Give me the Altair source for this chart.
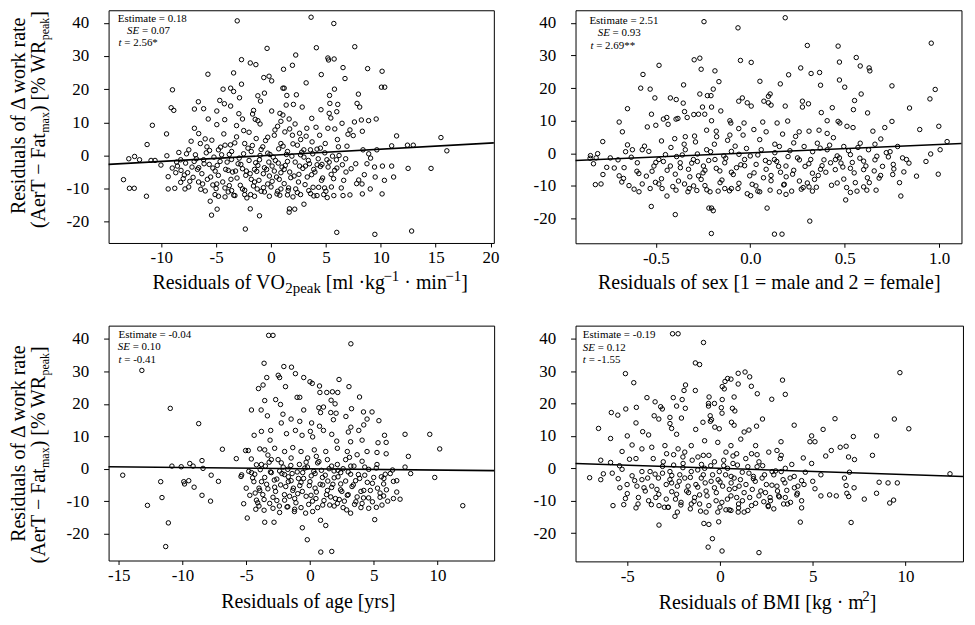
import altair as alt
import pandas as pd

FONT = "Liberation Serif"

# ---------------- data ----------------
P1_POINTS = [
(-3.08,40.6),(3.65,41.7),(5.72,39.8),(-0.36,32.3),(4.13,32.5),(7.63,32.8),(2.25,30.3),(5.18,29.4),(5.24,28.8),(5.75,29.1),
(-2.69,28.9),(-1.89,27.9),(-1.38,27.4),(1.95,27.2),(1.14,26.0),(6.56,26.5),(8.80,26.2),(10.12,25.4),(6.74,23.2),(-5.75,24.5),
(-3.41,24.9),(4.58,24.4),(-0.66,23.5),(-0.18,23.9),(0.06,22.5),(3.20,21.9),(-2.69,21.5),(10.06,20.6),(10.36,20.6),(-8.98,19.8),
(-4.37,20.0),(-3.68,20.3),(-3.41,19.3),(1.08,20.3),(1.20,20.3),(5.78,20.0),(-2.87,17.4),(-1.20,18.0),(-0.60,18.8),(-0.96,16.4),
(1.44,18.1),(2.31,18.3),(5.33,18.1),(7.96,18.5),(-4.67,16.6),(-4.25,15.6),(-3.68,14.9),(-6.62,16.2),(1.38,15.2),(2.04,15.4),
(5.36,15.7),(6.08,15.4),(7.84,15.7),(8.08,14.6),(-9.10,14.4),(-8.86,13.6),(-6.98,14.0),(-6.14,14.1),(-4.94,13.4),(-1.59,13.6),
(0.06,13.4),(2.84,14.6),(4.55,13.8),(5.99,13.2),(-2.93,12.6),(-1.68,12.5),(0.81,12.7),(5.30,12.7),(-4.22,10.8),(-2.60,11.0),
(-1.44,10.9),(-1.20,10.5),(1.08,12.2),(1.65,11.0),(3.71,11.2),(5.45,11.3),(8.23,10.7),(8.89,10.5),(9.58,11.0),(-5.72,11.0),
(-10.81,9.1),(-4.94,9.3),(0.60,8.8),(2.19,9.5),(6.47,9.7),(7.60,10.1),(-6.98,8.2),(-2.49,7.5),(0.36,7.7),(3.26,8.2),
(5.18,8.2),(5.81,8.0),(7.19,7.7),(8.32,7.3),(-9.52,6.5),(11.44,5.9),(10.99,2.9),(12.43,3.1),(12.96,3.1),(15.48,5.4),
(16.02,1.4),(14.58,-3.9),(12.49,-3.9),(11.17,-6.5),(10.15,-3.2),(10.99,-3.2),(10.33,-7.5),(10.12,-11.6),(9.49,-6.5),(9.43,-3.5),
(9.07,-0.8),(9.64,1.7),(9.04,-10.1),(9.46,-23.8),(12.81,-22.8),(5.99,-23.2),(-2.34,-22.2),(-1.05,-18.2),(-5.42,-18.0),(-4.91,-16.2),
(-1.89,-16.1),(1.65,-17.1),(1.68,-16.1),(2.16,-16.2),(3.0,-14.7),(-11.35,-12.3),(-13.44,-7.3),(-12.90,-9.9),(-12.46,-9.9),(-12.96,-1.0),
(-12.43,-0.3),(-11.98,-1.3),(-11.29,3.3),(-10.93,-1.5),(-10.57,-1.5),(-10.03,-2.9),(-9.49,-0.1),(-9.37,-6.4),(-9.37,-10.1),(-8.77,-9.9),
(-8.68,-5.2),(-8.23,-8.1),(-7.84,-10.1),(-7.60,-5.2),(-7.10,-6.6),(-7.28,4.3),(7.99,-7.4),(7.19,-11.9),(6.62,-7.5),(6.83,-5.0),
(7.72,-2.5),(7.49,6.0),(7.01,6.4),(6.92,2.8),(6.14,2.6),(6.05,4.8),(5.96,-1.3),(5.12,-12.7),(5.72,-12.1),(6.56,-12.1),
(8.32,-11.6),(8.29,-8.6),(8.74,-2.5),(8.38,1.7),(4.19,-12.1),(2.69,-11.8),(1.50,-11.9),(0.54,-11.6),(-0.15,-12.3),(-0.69,-9.7),
(-1.50,-12.3),(-1.86,-11.8),(-2.40,-11.8),(-3.29,-12.1),(-4.19,-12.5),(-4.79,-12.3),(-5.54,-13.8),(-5.99,-10.7),(-6.23,-8.6),(-5.30,-8.9),
(-4.94,-8.6),(-3.80,-9.1),(-3.59,-10.6),(-2.60,-10.1),(-1.26,-10.1),(-0.90,-10.8),(-0.30,-8.6),(0.90,-10.1),(1.56,-10.6),(2.25,-10.1),
(3.44,-10.6),(3.83,-9.6),(4.34,-9.6),(4.88,-9.8),(5.48,-5.7),(3.89,-4.2),(4.64,-2.7),(5.09,-1.3),(3.59,1.7),(4.19,1.9),
(2.69,0.2),(3.14,-3.2),(2.54,-5.7),(1.80,-6.7),(1.20,-4.2),(0.66,-2.3),(0.30,-4.7),(0.75,-7.2),(-0.15,-6.2),(-0.60,-3.7),
(-1.05,-1.3),(-1.50,-4.2),(-1.80,-7.2),(-2.25,-4.7),(-2.75,-2.7),(-3.23,-4.7),(-3.65,-7.2),(-4.13,-4.2),(-4.64,-1.8),(-5.09,-4.7),
(-5.63,-2.7),(-6.14,-1.3),(-6.59,-3.7),(-6.89,0.2),(-7.49,1.7),(-8.23,-1.3),(-8.53,-3.2),(-7.78,-2.3),(-6.44,3.6),(-5.84,2.6),
(-5.39,4.6),(-4.79,1.7),(-4.19,3.1),(-3.59,1.2),(-3.14,5.6),(-2.40,3.6),(-1.80,1.2),(-1.35,5.1),(-0.75,2.6),(-0.30,0.7),
(0.30,6.1),(0.90,3.6),(1.50,1.2),(1.95,6.1),(2.40,3.1),(2.99,1.7),(3.74,4.1),(4.43,6.1),(4.94,3.6),(1.26,7.1),
(-3.14,9.0),(-6.59,6.6),
(-7.2,-3.5),(-6.8,-1.0),(-6.3,-5.5),(-5.9,0.8),(-5.5,-6.5),(-5.2,-0.5),(-4.9,-3.0),(-4.6,2.5),(-4.4,-8.0),(-4.0,-2.0),
(-3.8,0.3),(-3.5,-5.0),(-3.3,3.8),(-3.0,-2.5),(-2.8,-9.0),(-2.5,0.5),(-2.3,-6.0),(-2.0,-1.5),(-1.7,3.0),(-1.5,-8.0),
(-1.2,-3.0),(-1.0,0.0),(-0.7,-5.5),(-0.5,4.5),(-0.2,-2.0),(0.0,-9.5),(0.2,-0.5),(0.5,-6.5),(0.7,2.0),(1.0,-3.5),
(1.2,-8.5),(1.4,0.3),(1.7,-5.0),(2.0,3.5),(2.2,-2.0),(2.5,-8.0),(2.7,4.8),(3.0,-0.5),(3.3,-6.5),(3.5,-2.5),
(3.8,0.5),(4.0,-5.0),(4.3,-1.0),(4.6,-7.5),(4.9,0.8),(5.2,-3.5),(5.5,-9.5),(5.8,-4.5),(6.2,0.0),(6.5,-2.8),
(-8.0,-7.0),(-7.5,-9.5),(-6.6,-8.0),(-5.0,-10.0),(-3.9,-11.0),(-2.2,-12.8),(0.8,-12.0),(2.0,-12.5),(3.6,-11.5),(4.8,-11.8),
(-6.0,5.0),(-4.3,6.5),(-2.0,7.0),(-0.3,5.5),(1.7,8.0),(3.2,5.8),(4.1,8.5),(-1.0,9.5),(0.9,10.3),(2.6,6.7),
(-9.0,-3.8),(-8.4,0.9),(-7.9,-5.9),(-3.6,-1.2),(-1.3,-4.8),(0.1,-3.2),(1.5,-1.8),(2.9,-3.9),(4.5,-3.3),(5.6,-0.2),
(-8.6,-2.0),(-8.2,-4.5),(-7.7,0.5),(-7.4,-7.8),(-7.0,-1.8),(-6.7,-4.2),(-6.4,-10.2),(-6.1,-2.5),(-5.8,-7.2),(-5.6,1.5),
(-5.3,-3.8),(-5.1,-11.8),(-4.8,-6.0),(-4.5,0.2),(-4.2,-9.8),(-3.9,-4.5),(-3.7,3.2),(-3.4,-12.0),(-3.1,-6.8),(-2.9,-0.8),
(-2.6,-4.0),(-2.4,-10.5),(-2.1,2.2),(-1.9,-5.5),(-1.6,-9.2),(-1.4,-2.2),(-1.1,-7.5),(-0.9,1.8),(-0.6,-11.0),(-0.4,-4.2),
(-0.1,0.3),(0.1,-7.8),(0.4,-1.5),(0.6,-10.8),(0.9,-5.2),(1.1,2.8),(1.3,-3.0),(1.6,-9.8),(1.9,-0.2),(2.1,-6.2),
(2.4,-11.2),(2.6,-3.2),(2.8,1.0),(3.1,-8.8),(3.4,-1.5),(3.7,-5.8),(3.9,-12.2),(4.2,-2.8),(4.5,2.2),(4.7,-6.8),
(5.0,-10.8),(5.3,-2.0),(5.7,-7.0),(6.0,-3.8),(6.4,-9.8),(6.8,-1.0),(7.3,-4.0),(7.8,-8.5),(8.5,-5.8),(8.9,0.5),
]

P2_POINTS = [
(-0.245,40.4),(0.185,41.6),(-0.065,38.5),(0.958,33.8),(0.302,33.1),(0.465,32.9),(0.561,29.4),(-0.267,29.2),(-0.297,28.7),(-0.052,28.5),
(0.005,27.9),(0.472,28.0),(0.582,26.8),(-0.483,27.0),(0.629,26.2),(0.633,25.3),(0.267,26.2),(-0.260,25.8),(-0.187,25.3),(0.367,24.8),
(0.322,24.5),(0.203,24.1),(-0.568,24.2),(0.472,22.5),(0.051,22.1),(-0.166,22.0),(0.159,21.3),(-0.353,21.0),(0.372,20.9),(0.500,20.3),
(0.750,20.7),(0.979,19.6),(-0.580,20.0),(-0.530,19.7),(-0.196,19.7),(0.587,18.2),(0.951,16.7),(0.552,16.2),(-0.267,18.2),(-0.227,17.7),
(-0.208,17.7),(-0.505,17.0),(-0.423,17.0),(-0.392,16.5),(-0.042,17.0),(-0.061,16.0),(-0.016,15.5),(0.005,14.5),(0.072,16.0),(0.096,15.5),
(0.110,14.8),(0.276,16.0),(0.308,15.2),(0.276,14.2),(0.185,14.5),(0.105,18.2),(0.096,17.5),(-0.355,15.4),(0.434,14.0),(0.546,13.4),
(0.843,13.9),(0.621,12.4),(0.376,12.5),(-0.650,13.7),(-0.523,12.0),(-0.253,14.2),(-0.205,14.2),(-0.156,13.0),(-0.348,12.8),(-0.299,11.9),
(-0.274,12.0),(-0.241,12.0),(-0.442,11.0),(-0.460,10.5),(-0.393,10.5),(-0.383,10.7),(-0.334,11.0),(-0.205,10.0),(-0.108,10.0),(-0.103,9.3),
(-0.033,9.3),(0.066,9.6),(0.142,9.3),(0.198,9.9),(0.407,10.0),(0.465,9.8),(0.474,9.3),(0.750,9.8),(-0.694,9.6),(-0.677,6.6),
(-0.500,8.6),(-0.435,8.9),(-0.545,8.1),(0.897,7.3),(0.998,8.3),(0.712,7.9),(0.649,6.8),(0.544,7.9),(0.512,8.3),(0.407,6.1),
(0.364,7.1),(0.311,6.8),(0.259,6.6),(0.171,5.9),(0.084,6.6),(0.019,7.3),(-0.038,5.6),(-0.061,7.6),(-0.108,5.6),(-0.231,7.1),
(-0.178,5.1),(-0.295,5.3),(-0.344,5.1),(0.691,4.4),(0.780,2.1),(1.042,3.6),(1.005,1.1),(0.955,-0.2),(0.731,-1.1),(0.806,-1.4),
(0.827,-1.9),(0.757,-3.4),(0.813,-5.7),(0.754,-6.5),(0.995,-6.4),(0.797,-13.1),(0.682,-7.6),(0.656,-5.4),(0.666,-11.3),(0.617,-11.3),
(0.565,-11.6),(0.530,-12.0),(0.505,-14.3),(0.556,-9.0),(0.600,-10.3),(0.460,-9.1),(0.495,-7.9),(0.530,-4.6),(0.472,-1.4),(0.425,-2.9),
(0.372,-4.9),(0.329,-6.1),(0.302,-9.1),(0.311,-10.3),(0.350,-10.4),(0.329,-11.6),(0.315,-20.8),(0.219,-11.6),(0.189,-12.6),(0.177,-9.7),
(0.154,-11.8),(0.110,-8.4),(0.089,-16.8),(0.128,-24.8),(0.168,-24.8),(0.105,-11.3),(0.040,-11.6),(0.002,-13.0),(-0.016,-12.4),(-0.065,-10.8),
(-0.100,-10.8),(-0.135,-10.8),(-0.170,-11.6),(-0.205,-16.8),(-0.196,-17.6),(-0.206,-24.6),(-0.219,-16.8),(-0.213,-11.8),(-0.240,-9.9),(-0.283,-11.4),
(-0.323,-10.8),(-0.348,-9.4),(-0.393,-11.3),(-0.397,-18.8),(-0.441,-13.1),(-0.467,-10.8),(-0.524,-16.3),(-0.484,-9.4),(-0.502,-8.9),(-0.572,-9.4),
(-0.589,-11.8),(-0.615,-11.0),(-0.642,-9.9),(-0.671,-7.7),(-0.694,-6.9),(-0.790,-9.4),(-0.820,-9.6),(-0.760,-4.3),(-0.848,-1.5),(-0.846,-0.7),
(-0.808,-0.1),(-0.816,-1.4),(-0.781,3.6),(-0.741,-1.4),(-0.668,-4.4),(-0.650,2.6),(-0.624,1.1),(-0.598,-2.9),(-0.572,1.1),(-0.537,0.6),
(-0.510,-3.9),(-0.484,-1.9),(-0.449,-0.4),(-0.423,-3.9),(-0.397,-6.4),(-0.371,-2.9),(-0.344,1.1),(-0.327,-4.9),(-0.301,-1.9),(-0.274,-6.9),
(-0.248,-3.9),(-0.231,1.1),(-0.187,-1.9),(-0.161,-5.4),(-0.135,-2.9),(-0.100,0.6),(-0.073,-4.4),(-0.030,-1.9),(-0.003,-6.9),(0.031,-3.4),
(0.058,1.1),(0.084,-4.9),(0.128,-1.9),(0.154,2.1),(0.189,-3.9),(0.224,-6.4),(0.250,-1.4),(0.285,2.1),(0.320,-1.9),(0.355,3.1),
(0.407,1.1),(0.451,-1.9),(0.495,2.1),(0.530,-0.4),(0.582,3.1),(0.626,1.1),(0.670,-0.9),(0.612,-3.9),
(-0.60,-5.5),(-0.55,-7.0),(-0.46,-2.5),(-0.42,1.8),(-0.38,-8.5),(-0.36,-0.5),(-0.31,-3.0),(-0.29,3.5),(-0.26,-8.0),(-0.22,-2.2),
(-0.19,2.8),(-0.16,-9.0),(-0.14,-0.8),(-0.12,4.0),(-0.09,-6.5),(-0.05,-3.5),(-0.02,1.5),(0.01,-9.5),(0.04,-0.5),(0.07,-7.5),
(0.10,-2.8),(0.13,0.2),(0.16,-5.8),(0.20,-1.0),(0.23,3.2),(0.26,-8.5),(0.29,-4.0),(0.33,0.5),(0.36,-6.8),(0.39,-2.0),
(0.42,2.5),(0.45,-5.0),(0.48,-3.0),(0.52,0.8),(0.55,-6.0),(0.58,-1.5),(0.62,-7.5),(0.66,2.8),(0.70,-4.0),(0.74,0.5),
(-0.70,-2.0),(-0.66,0.5),(-0.52,-5.5),(-0.47,3.8),(-0.33,-11.8),(-0.24,-5.2),(-0.11,-11.5),(0.03,-10.0),(0.19,-7.2),(0.27,-11.0),
(-0.40,4.5),(-0.18,6.8),(0.05,4.2),(0.24,5.2),(0.44,4.8),(-0.28,-0.2),(-0.06,-0.3),(0.14,-2.5),(0.38,-3.8),(0.60,-2.4),
(-0.72,-4.5),(-0.68,-8.8),(-0.63,-1.2),(-0.59,-6.2),(-0.56,2.2),(-0.53,-10.8),(-0.50,-2.8),(-0.47,-7.8),(-0.44,-5.2),(-0.41,-10.2),
(-0.39,-1.0),(-0.37,-4.4),(-0.35,2.8),(-0.32,-7.2),(-0.30,-10.0),(-0.28,-2.5),(-0.25,-6.0),(-0.23,-11.2),(-0.21,0.5),(-0.18,-4.6),
(-0.15,-8.2),(-0.13,-1.5),(-0.10,-5.8),(-0.08,2.2),(-0.06,-9.2),(-0.03,-3.8),(0.00,-0.8),(0.02,-6.0),(0.05,-11.8),(0.08,-2.2),
(0.11,-6.8),(0.13,2.8),(0.15,-4.0),(0.18,-9.5),(0.21,0.8),(0.23,-5.2),(0.26,-2.0),(0.28,-10.5),(0.31,-3.2),(0.34,-8.0),
(0.37,1.6),(0.40,-5.8),(0.43,-9.8),(0.46,-0.8),(0.49,-4.2),(0.51,-10.5),(0.54,-2.8),(0.57,1.8),(0.60,-5.0),(0.63,-9.0),
(0.66,-2.0),(0.69,-6.8),(0.72,0.2),(0.76,-4.8),(0.79,-9.0),(0.84,-3.0),(0.88,-7.0),(0.93,-2.5),(-0.78,-6.5),(-0.83,-3.2),
]

P3_POINTS = [
(-3.24,41.1),(-2.90,41.1),(3.21,38.5),(-13.19,30.3),(-3.60,32.5),(-2.05,31.5),(-1.45,31.3),(-1.14,29.3),(-0.49,28.1),(-2.49,28.8),
(-2.38,28.1),(-3.39,28.1),(0.00,26.8),(0.18,26.3),(0.75,25.5),(2.28,27.5),(3.06,25.3),(-3.68,25.8),(-4.04,24.7),(-1.92,25.3),
(0.78,23.5),(1.32,23.5),(1.76,23.7),(2.18,23.5),(3.89,22.1),(-1.01,22.0),(-0.80,22.0),(-3.55,21.0),(-2.69,21.3),(-2.31,19.8),
(1.66,21.1),(1.97,20.0),(3.26,18.5),(-10.96,18.6),(-4.59,18.1),(-3.83,18.1),(-0.49,18.1),(0.70,18.8),(1.06,19.0),(0.83,17.3),
(1.63,17.3),(2.05,17.1),(4.20,17.5),(4.87,17.5),(5.41,14.8),(-2.12,16.8),(-3.34,16.3),(2.82,16.1),(1.84,15.1),(-1.48,15.3),
(-0.80,14.6),(-2.25,14.1),(0.13,14.1),(4.48,15.3),(-8.73,13.9),(3.21,12.8),(4.22,13.5),(3.83,11.8),(3.01,11.3),(0.75,13.1),
(1.06,11.8),(1.71,10.6),(0.03,11.5),(-3.08,11.8),(-3.81,11.5),(-4.38,10.3),(-3.13,8.8),(-1.84,10.8),(-1.14,11.8),(-0.62,10.3),
(0.21,9.8),(5.85,10.3),(7.46,10.6),(9.40,10.6),(5.98,8.1),(5.34,8.0),(4.09,8.8),(3.19,8.3),(2.10,8.5),(10.18,6.1),
(7.72,3.8),(5.98,4.6),(5.26,5.0),(4.48,5.3),(-6.87,6.0),(-5.78,3.1),(-5.05,5.6),(-4.84,5.6),(-3.94,6.1),(-3.55,5.8),
(-2.77,6.3),(-1.99,5.3),(-1.35,6.5),(-0.70,5.3),(0.34,5.8),(1.24,5.3),(2.15,6.3),(2.93,5.3),(3.70,4.3),(-8.47,2.5),
(-9.43,1.6),(-9.17,0.8),(-10.10,0.6),(-10.83,0.8),(-8.39,0.1),(-14.69,-2.0),(-11.71,-4.0),(-12.75,-11.3),(-11.61,-8.9),(-11.11,-16.7),
(-11.32,-24.0),(-9.90,-4.0),(-9.84,-4.7),(-9.51,-3.7),(-9.09,-5.7),(-8.47,-8.2),(-7.80,-10.0),(-7.75,-2.0),(-7.18,-3.9),(-5.41,-2.4),
(-5.36,-1.9),(-4.92,-15.2),(-4.72,-8.2),(-4.59,-1.2),(-4.25,-12.5),(-4.20,-9.7),(-3.55,-16.5),(-2.82,-16.5),(-2.38,-13.5),(-1.74,-11.7),
(-1.22,-13.2),(-0.60,-18.2),(-0.21,-21.9),(-0.34,-13.7),(0.21,-13.2),(0.85,-25.7),(1.71,-25.5),(0.83,-15.9),(1.24,-17.5),(1.55,-11.2),
(2.15,-10.7),(2.88,-12.7),(3.19,-13.7),(4.09,-10.7),(4.61,-12.2),(5.08,-15.7),(5.21,-11.9),(5.65,-11.2),(5.78,-8.4),(6.55,-9.2),
(7.07,-9.4),(6.81,-7.2),(6.55,-3.9),(6.81,-3.7),(5.78,-4.7),(5.91,-1.7),(6.48,-0.4),(7.46,0.5),(7.90,-1.5),(9.79,-2.7),
(11.99,-11.4),(5.00,-2.7),(4.22,-6.7),(3.58,-3.7),(2.93,-8.2),(2.41,-4.7),(1.89,-0.7),(1.37,-6.7),(0.98,-2.7),(0.47,-9.2),
(-0.05,-5.2),(-0.57,-1.2),(-0.96,-7.7),(-1.48,-3.7),(-1.99,-9.7),(-2.38,-0.7),(-2.77,-5.7),(-3.16,-10.7),(-3.55,-2.7),(-3.94,-6.7),
(-4.33,-1.7),(-3.81,1.3),(-3.03,2.8),(-2.25,1.8),(-1.48,3.3),(-0.83,1.3),(-0.18,3.3),(0.60,1.8),(1.37,2.8),(2.15,1.3),
(2.80,2.8),(3.45,0.8),(4.09,2.3),(4.61,-0.2),(5.26,1.3),(3.19,-1.7),(2.41,-1.2),(-1.74,-0.2),(-3.03,-1.2),(-1.35,-6.7),
(0.08,-8.2),(1.63,-8.7),(3.70,-8.7),(4.74,-6.7),
(-4.4,-4.0),(-4.1,-10.5),(-3.9,-0.3),(-3.7,-8.0),(-3.4,-4.8),(-3.2,2.0),(-2.9,-8.8),(-2.6,-3.2),(-2.4,-11.5),(-2.1,0.5),
(-1.9,-5.5),(-1.6,-8.5),(-1.4,-1.5),(-1.1,-10.5),(-0.9,-3.0),(-0.6,-7.0),(-0.4,0.2),(-0.1,-11.0),(0.1,-2.2),(0.4,-6.0),
(0.6,-12.0),(0.9,-0.5),(1.1,-9.8),(1.4,-3.8),(1.7,0.8),(1.9,-11.5),(2.2,-2.5),(2.5,-7.0),(2.7,-10.0),(3.0,-1.0),
(3.3,-5.5),(3.5,-11.0),(3.9,-3.0),(4.2,-9.0),(4.5,-4.2),(4.9,-10.2),(5.3,-6.0),(5.6,-2.5),(6.0,-6.5),(6.3,-1.5),
(-4.6,3.0),(-3.3,4.2),(-2.0,-1.8),(-0.7,-4.2),(0.5,3.8),(1.8,-4.8),(3.1,3.5),(4.3,0.5),(5.5,-8.8),(-1.2,-12.5),
(0.3,-0.8),(-2.7,-7.0),(2.3,-9.5),(-3.6,-12.8),(1.0,-5.0),(-0.3,2.0),(2.6,0.0),(-1.7,-4.0),(4.0,-12.0),(-4.0,-6.0),
(-4.5,-2.8),(-4.3,-7.5),(-4.2,1.2),(-4.0,-11.5),(-3.8,-4.0),(-3.6,-9.5),(-3.5,0.8),(-3.3,-6.2),(-3.1,-1.0),(-2.9,-12.2),
(-2.8,-3.5),(-2.6,-9.8),(-2.5,2.8),(-2.3,-5.0),(-2.2,-1.5),(-2.0,-8.0),(-1.8,-11.8),(-1.7,-2.5),(-1.5,1.0),(-1.3,-6.0),
(-1.2,-9.2),(-1.0,-1.0),(-0.8,-5.2),(-0.7,-12.0),(-0.5,-3.0),(-0.3,-8.5),(-0.2,0.5),(0.0,-4.0),(0.2,-10.0),(0.4,-1.5),
(0.5,-7.2),(0.7,2.2),(0.8,-4.8),(1.0,-11.2),(1.2,-2.0),(1.3,-8.0),(1.5,0.0),(1.7,-5.8),(1.9,-2.8),(2.0,-9.2),
(2.2,-0.5),(2.4,-6.5),(2.6,-12.0),(2.8,-3.8),(3.0,-8.0),(3.2,0.8),(3.4,-5.0),(3.6,-10.2),(3.8,-1.8),(4.0,-7.0),
(4.3,-2.0),(4.6,-9.0),(4.9,-4.5),(5.2,0.2),(5.5,-7.5),(5.8,-3.0),(6.1,-10.0),(-5.0,-6.0),(-5.2,-10.8),(-4.8,-0.8),
]

P4_POINTS = [
(-2.56,41.5),(-2.26,41.5),(-0.89,38.8),(-1.33,32.5),(-1.10,32.0),(-5.10,29.2),(-4.65,26.4),(9.70,29.5),(1.35,29.7),(1.60,28.2),
(0.98,29.3),(0.41,27.7),(0.59,27.5),(0.27,26.8),(0.98,26.0),(0.12,25.2),(0.23,24.5),(1.69,25.3),(3.37,27.2),(3.52,22.8),
(-1.86,25.7),(-1.94,24.0),(-1.33,24.0),(-2.52,21.8),(-2.04,21.2),(-2.34,19.2),(-1.87,18.5),(-3.94,21.8),(-3.50,20.5),(-3.20,19.0),
(-3.11,18.3),(-4.51,18.8),(-5.08,18.3),(-5.86,17.2),(-5.51,16.4),(-0.59,22.0),(0.12,21.2),(0.76,22.0),(-0.62,20.0),(-0.30,20.0),
(-0.62,19.2),(0.07,18.7),(0.67,18.5),(0.80,17.7),(0.11,17.0),(2.01,23.0),(2.79,21.3),(-3.55,16.2),(-3.30,15.2),(-2.70,15.7),
(-2.08,15.5),(-1.31,12.0),(-0.92,14.2),(-0.53,16.2),(-0.46,15.0),(-0.52,14.5),(-0.28,12.7),(-0.04,12.2),(0.62,14.2),(0.76,13.3),
(1.97,13.0),(2.29,15.2),(1.30,11.2),(1.56,11.8),(-6.55,12.3),(-5.90,9.2),(-5.0,10.0),(-4.53,14.0),(-4.17,11.3),(-3.85,10.3),
(-2.70,13.8),(-2.61,12.3),(-2.34,10.5),(4.0,13.3),(5.56,12.0),(6.20,15.3),(9.40,15.2),(10.18,12.2),(8.44,10.0),(7.19,9.8),
(4.94,10.0),(4.85,8.2),(5.12,8.2),(3.29,8.2),(6.48,6.5),(6.80,6.8),(6.0,5.5),(5.70,3.8),(6.93,3.5),(7.25,2.7),
(8.22,4.0),(12.40,-1.7),(8.58,-4.3),(9.06,-4.5),(9.56,-4.5),(8.44,-7.7),(9.36,-9.8),(9.15,-10.7),(7.78,-9.5),(7.07,-16.7),
(6.94,-8.7),(6.84,-7.7),(7.23,-6.0),(6.80,-5.3),(6.71,-3.0),(6.98,-1.2),(6.27,-8.5),(5.91,-8.2),(5.44,-8.5),(5.12,-6.3),
(5.44,-2.0),(4.94,1.5),(4.49,3.2),(4.53,-5.0),(4.40,-3.8),(4.40,-10.0),(4.33,-16.6),(4.14,-8.2),(4.17,-7.7),(4.01,-6.0),
(3.64,-11.0),(3.43,-11.0),(3.52,-9.0),(3.16,-8.5),(2.72,-10.0),(2.36,-10.3),(2.10,-26.0),(1.92,-10.8),(1.30,-13.5),(0.98,-13.5),
(0.59,-13.0),(0.32,-12.8),(0.11,-25.5),(-0.07,-16.5),(-0.41,-21.7),(-0.64,-24.3),(-0.60,-17.3),(-0.87,-17.0),(-0.12,-13.5),(-0.75,-13.5),
(-1.05,-13.2),(-1.55,-11.0),(-2.11,-11.3),(-2.43,-14.8),(-2.79,-12.0),(-3.29,-17.5),(-3.29,-11.5),(-3.85,-10.0),(-4.42,-11.0),(-4.53,-12.2),
(-5.19,-11.2),(-5.77,-11.5),(-5.10,-9.3),(-5.01,-5.0),(-5.49,-3.2),(-5.81,-1.5),(-6.43,-3.5),(-7.03,-2.9),(-6.29,-1.7),(-6.43,2.5),
(-5.90,1.8),(-5.42,0.8),(-5.28,-0.3),(-5.28,5.2),(-4.74,7.2),(-4.88,2.8),(-4.53,3.0),(-4.74,-2.3),(-4.48,-5.5),(-4.21,-1.0),
(-4.21,-3.5),(-4.03,-7.0),(-3.77,-1.0),(-3.68,-5.5),(-3.46,-9.0),(-3.32,-3.0),(-3.06,2.0),(-2.88,4.5),(-2.70,-1.0),(-2.61,-4.5),
(-2.34,-8.0),(-2.17,-2.0),(-1.99,1.5),(-1.90,5.0),(-1.72,-5.5),(-1.55,-1.0),(-1.37,-9.0),(-1.19,3.5),(-1.01,-3.0),(-0.83,0.0),
(-0.75,-7.0),(-0.48,-4.0),(-0.30,2.0),(-0.21,-10.0),(-0.04,-1.0),(0.14,-5.5),(0.32,5.0),(0.41,0.0),(0.59,-8.5),(0.76,-3.0),
(0.94,1.0),(1.03,-5.5),(1.21,-10.0),(1.39,3.0),(1.56,-1.5),(1.74,-6.5),(1.92,7.0),(2.10,2.0),(2.27,-3.0),(2.45,-7.5),
(2.63,5.0),(2.81,-1.0),(3.07,-5.5),(3.25,3.0),(3.52,0.0),(3.78,-3.0),(3.87,1.2),(3.07,5.5),(1.12,9.0),(0.59,7.0),
(-0.12,8.0),(-0.83,8.5),(-1.55,7.0),(-2.26,6.0),(-2.97,7.0),(-3.68,6.5),(-4.21,6.0),
(-3.4,-6.5),(-3.1,-1.5),(-2.9,-9.5),(-2.7,-3.5),(-2.5,1.0),(-2.3,-5.5),(-2.1,-10.5),(-1.9,-3.0),(-1.7,-7.5),(-1.5,2.5),
(-1.3,-5.0),(-1.1,-11.0),(-0.9,-2.0),(-0.7,-8.5),(-0.5,0.8),(-0.3,-6.0),(-0.1,-3.5),(0.1,-10.5),(0.3,-2.0),(0.5,-6.5),
(0.7,1.5),(0.9,-9.0),(1.1,-3.5),(1.3,-7.5),(1.5,0.5),(1.7,-11.5),(1.9,-4.0),(2.1,-8.5),(2.3,0.8),(2.5,-5.0),
(2.7,-9.0),(2.9,-2.0),(3.1,-7.0),(3.3,-1.0),(3.5,-4.5),(-3.0,-12.0),(-1.6,-12.5),(0.0,-12.0),(1.0,-12.2),(2.6,-11.5),
(-2.0,3.5),(-0.6,4.0),(0.9,4.5),(2.0,4.2),(-3.6,3.0),(-1.2,-0.5),(0.2,2.5),(1.8,-2.5),(-2.6,-7.2),(0.6,-4.5),
(-4.1,-6.0),(-3.9,-3.0),(-3.7,-11.2),(-3.5,-1.8),(-3.3,-8.0),(-3.1,0.6),(-2.9,-5.0),(-2.8,-12.0),(-2.6,-2.2),(-2.4,-9.5),
(-2.2,-4.0),(-2.0,0.2),(-1.8,-7.0),(-1.6,-2.8),(-1.4,-10.2),(-1.2,-5.8),(-1.0,1.2),(-0.8,-4.5),(-0.6,-11.5),(-0.4,-2.0),
(-0.2,-7.5),(0.0,-4.2),(0.2,0.8),(0.4,-9.5),(0.6,-2.5),(0.8,-6.2),(1.0,-11.0),(1.2,-1.2),(1.4,-5.0),(1.6,-9.0),
(1.8,-3.2),(2.0,0.5),(2.2,-7.0),(2.4,-2.0),(2.6,-11.8),(2.8,-5.2),(3.0,-0.8),(3.2,-8.8),(3.4,-3.5),(3.6,-6.8),
(3.8,-10.5),(4.0,-2.5),(4.2,-5.5),(4.4,-12.2),(4.6,-1.2),(-4.4,-9.0),(-4.6,-3.8),(-5.0,-7.8),(-5.4,-6.0),(5.0,-4.0),
(-1.1,-8.2),(0.5,-12.8),(1.5,-13.0),(-2.3,-13.5),(2.9,-12.5),(-0.9,4.0),(0.7,3.8),(-2.5,4.2),(1.7,4.5),(3.3,4.0),
]

# regression lines (end points read at the frame edges)
L1_X, L1_Y = [-14.8, 20.3], [-2.7, 3.8]
L2_X, L2_Y = [-0.925, 1.118], [-2.2, 3.0]
L3_X, L3_Y = [-15.8, 14.45], [0.6, -0.6]
L4_X, L4_Y = [-7.79, 13.1], [1.5, -2.5]

X_TICKS = [[-10, -5, 0, 5, 10, 15, 20], [-0.5, 0.0, 0.5, 1.0], [-15, -10, -5, 0, 5, 10], [-5, 0, 5, 10]]
Y_TICKS = [-20, -10, 0, 10, 20, 30, 40]

STATS = [
    ("Estimate = 0.18", "= 0.07", "= 2.56*"),
    ("Estimate = 2.51", "= 0.93", "= 2.69**"),
    ("Estimate = -0.04", "= 0.10", "= -0.41"),
    ("Estimate = -0.19", "= 0.12", "= -1.55"),
]

# ---------------- layout helpers ----------------
SX, SY = 0.9945, 0.977

TW = {' ': 250, '(': 333, ')': 333, '[': 333, ']': 333, '%': 833, '=': 564, '\u2212': 564,
      '\u00b7': 250, '*': 500, '-': 333, '.': 250, 'A': 722, 'B': 667, 'E': 611, 'F': 556,
      'I': 333, 'M': 889, 'O': 722, 'R': 667, 'S': 556, 'T': 611, 'V': 722, 'W': 944,
      '\u0394': 612, 'a': 444, 'd': 500, 'e': 444, 'f': 333, 'g': 500, 'i': 278, 'k': 500,
      'l': 278, 'm': 778, 'n': 500, 'o': 500, 'p': 500, 'r': 333, 's': 389, 't': 278,
      'u': 500, 'w': 722, 'x': 500, 'y': 500}

def tw(s, size):
    return sum(TW.get(c, 500) for c in s) / 1000.0 * size

dummy = pd.DataFrame({"k": [0]})

def txt(s, x, y, size, angle=0, style="normal", baseline="alphabetic"):
    kw = dict(text=s, font=FONT, fontSize=size, align="left", baseline=baseline,
              color="black", fontStyle=style)
    if angle:
        kw["angle"] = angle
    return alt.Chart(dummy).mark_text(**kw).encode(x=alt.value(x), y=alt.value(y))

def hpieces(x0, y0, pieces):
    # SVG drops leading blanks, so a leading blank is turned into an advance
    out, x = [], x0
    for s, size, dy in pieces:
        lead = len(s) - len(s.lstrip(" "))
        x += tw(" " * lead, size)
        body = s.lstrip(" ")
        out.append(txt(body, x, y0 + dy, size))
        x += tw(body, size)
    return out

def vpieces(x0, y0, pieces):
    out, y = [], y0
    for s, size, dx in pieces:
        lead = len(s) - len(s.lstrip(" "))
        y -= tw(" " * lead, size)
        body = s.lstrip(" ")
        out.append(txt(body, x0 + dx, y, size, angle=270))
        y -= tw(body, size)
    return out

INT_LAB = "datum.value + ''"
DEC_LAB = "datum.value < 0 ? '-' + format(-datum.value, '.1f') : format(datum.value, '.1f')"

LINE1 = [("Residuals of \u0394 work rate", 20, 0)]
LINE2 = [("(AerT \u2212 Fat", 20, 0), ("max", 12, 4), (") [% WR", 20, 0), ("peak", 12, 4), ("]", 20, 0)]
LEN1 = sum(tw(s, z) for s, z, _ in LINE1)
LEN2 = sum(tw(s, z) for s, z, _ in LINE2)

PANELS = [
    dict(pts=P1_POINTS, xdom=[-14.8, 20.3], ydom=[-26.4, 43.8], fr=(109, 498, 3.5, 242.7),
         xt=X_TICKS[0], lab=INT_LAB, lx=L1_X, ly=L1_Y, stats=STATS[0],
         spos=[(118.3, 12.3), (127.7, 25.0), (119.0, 36.7)],
         title=((153.3, 290), [("Residuals of VO", 20, 0), ("2peak", 15, 4), (" [ml \u00b7kg", 20, 0),
                               ("\u22121", 15, -8), (" \u00b7 min", 20, 0), ("\u22121", 15, -8), ("]", 20, 0)]),
         ytitle=(111.7, 115.8)),
    dict(pts=P2_POINTS, xdom=[-0.925, 1.118], ydom=[-27.6, 43.9], fr=(579.3, 969, 3.5, 243),
         xt=X_TICKS[1], lab=DEC_LAB, lx=L2_X, ly=L2_Y, stats=STATS[1],
         spos=[(593.3, 14.3), (601.7, 26.7), (594.3, 40.0)],
         title=((602, 290.5), [("Residuals of sex [1 = male and 2 = female]", 20, 0)]),
         ytitle=None),
    dict(pts=P3_POINTS, xdom=[-15.8, 14.45], ydom=[-28.3, 44.1], fr=(109, 498.3, 327.3, 568.7),
         xt=X_TICKS[2], lab=INT_LAB, lx=L3_X, ly=L3_Y, stats=STATS[2],
         spos=[(119.0, 336.7), (118.3, 349.3), (119.0, 362.3)],
         title=((222.7, 618), [("Residuals of age [yrs]", 20, 0)]),
         ytitle=(448.3, 460.0)),
    dict(pts=P4_POINTS, xdom=[-7.79, 13.1], ydom=[-28.7, 44.0], fr=(579.3, 970.5, 326.7, 569),
         xt=X_TICKS[3], lab=INT_LAB, lx=L4_X, ly=L4_Y, stats=STATS[3],
         spos=[(586.7, 336.7), (586.7, 349.3), (586.7, 361.7)],
         title=((663.3, 618), [("Residuals of BMI [kg \u00b7 m", 20, 0), ("2", 15, -8), ("]", 20, 0)]),
         ytitle=None),
]

charts = []
for p in PANELS:
    left, right, top, bottom = p["fr"]
    w = (right - left) * SX
    h = (bottom - top) * SY
    rx = lambda v: (v - left) * SX
    ry = lambda v: (v - top) * SY
    xs = alt.Scale(domain=p["xdom"], nice=False, zero=False)
    ys = alt.Scale(domain=p["ydom"], nice=False, zero=False)
    xaxis = alt.Axis(values=p["xt"], labelExpr=p["lab"], title=None, domain=False, grid=False,
                     tickSize=4, tickColor="black", tickWidth=1, labelFont=FONT,
                     labelFontSize=17, labelColor="black", labelPadding=3, labelFlush=False,
                     labelOverlap=False)
    yaxis = alt.Axis(values=Y_TICKS, labelExpr=INT_LAB, title=None, domain=False, grid=False,
                     tickSize=5, tickColor="black", tickWidth=1, labelFont=FONT,
                     labelFontSize=17, labelColor="black", labelPadding=15, labelFlush=False,
                     labelOverlap=False)
    df = pd.DataFrame(p["pts"], columns=["x", "y"])
    pts = alt.Chart(df).mark_point(shape="circle", filled=False, color="black", size=20,
                                   strokeWidth=1, opacity=1).encode(
        x=alt.X("x:Q", scale=xs, axis=xaxis), y=alt.Y("y:Q", scale=ys, axis=yaxis))
    ldf = pd.DataFrame({"x": p["lx"], "y": p["ly"]})
    line = alt.Chart(ldf).mark_line(color="black", strokeWidth=1.6).encode(
        x=alt.X("x:Q", scale=xs, axis=xaxis), y=alt.Y("y:Q", scale=ys, axis=yaxis))
    parts = [pts, line]
    est, se, tv = p["stats"]
    (ex, ey), (sx, sy), (tx, ty) = p["spos"]
    sp = tw(" ", 11)
    parts.append(txt(est, rx(ex), ry(ey), 11, baseline="middle"))
    parts.append(txt("SE", rx(sx), ry(sy), 11, style="italic", baseline="middle"))
    parts.append(txt(se, rx(sx) + 12.2 + sp, ry(sy), 11, baseline="middle"))
    parts.append(txt("t", rx(tx), ry(ty), 11, style="italic", baseline="middle"))
    parts.append(txt(tv, rx(tx) + 3.1 + sp, ry(ty), 11, baseline="middle"))
    (tx0, ty0), pieces = p["title"]
    parts += hpieces(rx(tx0), ry(ty0), pieces)
    if p["ytitle"]:
        c1, c2 = p["ytitle"]
        parts += vpieces(-84.4, ry(c1) + LEN1 / 2, LINE1)
        parts += vpieces(-63.4, ry(c2) + LEN2 / 2, LINE2)
    charts.append(alt.layer(*parts).properties(width=w, height=h))

chart = alt.concat(
    *charts, columns=2, spacing={"row": 82.7, "column": 80.9}, bounds="flush", align="each"
).properties(padding=0, background="white").configure_view(stroke="black", strokeWidth=1)

chart.save("out.html", embed_options={"renderer": "svg", "actions": False})
